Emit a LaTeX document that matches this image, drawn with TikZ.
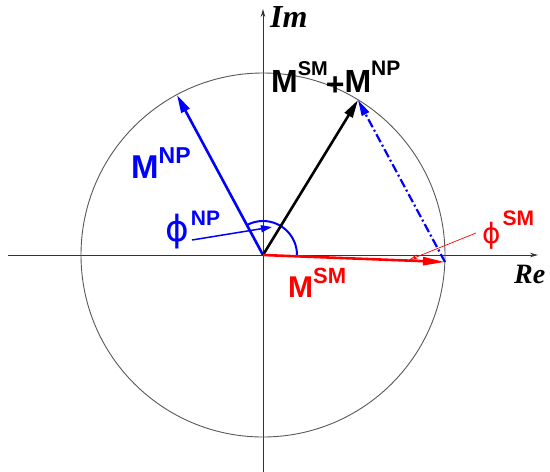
\documentclass[tikz,border=0pt]{standalone}
\usepackage{fontspec}
\setmainfont{Liberation Serif}
\newfontfamily\hv{Liberation Sans}
\newfontfamily\dv{DejaVu Sans}
\usetikzlibrary{arrows.meta}
\tikzset{
  axisline/.style={draw=black!80, line width=1pt, -{Stealth[length=8pt,width=4.5pt]}},
  circ/.style={draw=black!65, line width=0.9pt},
  vec/.style={line width=2.6pt, -{Triangle[length=18pt,width=9pt]}},
  lab/.style={inner sep=0pt, anchor=base west, font=\hv\bfseries},
  axlab/.style={inner sep=0pt, anchor=base west, font=\bfseries\itshape},
}
\newcommand{\fs}[1]{\fontsize{#1}{#1}\selectfont}
\begin{document}
\begin{tikzpicture}[x=1pt,y=-1pt]
\fill[white] (0,0) rectangle (550,472);
\useasboundingbox (0,0) rectangle (550,472);
% points
\coordinate (O) at (263,255);
\coordinate (SM) at (445,262);
\coordinate (NP) at (177,95);
\coordinate (T) at (358,100);
\coordinate (xl) at (8,255);
\coordinate (xr) at (538,255);
\coordinate (yb) at (263,472);
\coordinate (yt) at (263,9);
\coordinate (pNPs) at (192,240);
\coordinate (pNPe) at (272,227);
\coordinate (pSMs) at (476,233);
\coordinate (pSMe) at (409,260);
% axes and circle
\draw[axisline] (xl) -- (xr);
\draw[axisline] (yb) -- (yt);
\draw[circ] (O) circle[radius=182];
% angle arc
\draw[blue, line width=2pt] (O) ++(34,0) arc[start angle=0, end angle=-118.4, radius=34];
% vectors
\draw[vec, blue] (O) -- (NP);
\draw[vec, black] (O) -- (T);
\draw[red, line width=2.6pt, -{Triangle[length=22pt,width=8pt]}] (O) -- (SM);
\draw[blue, line width=2.2pt, dash pattern=on 9pt off 3pt on 2pt off 3pt, -{Triangle[length=16pt,width=8pt]}] (SM) -- (T);
% angle pointers
\draw[blue, line width=1.5pt, -{Triangle[length=11pt,width=7pt]}] (pNPs) -- (pNPe);
\draw[red, line width=0.7pt, -{Stealth[open,length=9pt,width=5pt]}] (pSMs) -- (pSMe);
% labels
\node[axlab] (im) at (270,27) {\fs{32}Im};
\node[axlab] (re) at (514,283) {\fs{28}Re};
\node[lab, black] (sum) at (271,92) {\fs{32}M\raisebox{17pt}{\fs{20}SM}\hspace{-2pt}\raisebox{-3pt}{+}M\raisebox{17pt}{\fs{21}NP}};
\node[lab, blue] (lnp) at (131,178) {\fs{33}M\raisebox{15pt}{\fs{23}NP}};
\node[lab, red] (lsm) at (288,297) {\fs{30}M\raisebox{14pt}{\fs{22}SM}};
\node[lab, blue] (fnp) at (165,241) {{\dv\mdseries\fs{36}ϕ}\hspace{2pt}\raisebox{16pt}{\fs{21}NP}};
\node[lab, red] (fsm) at (482,243) {{\dv\mdseries\fs{28}ϕ}\hspace{2pt}\raisebox{18pt}{\fs{21}SM}};
\end{tikzpicture}
\end{document}
